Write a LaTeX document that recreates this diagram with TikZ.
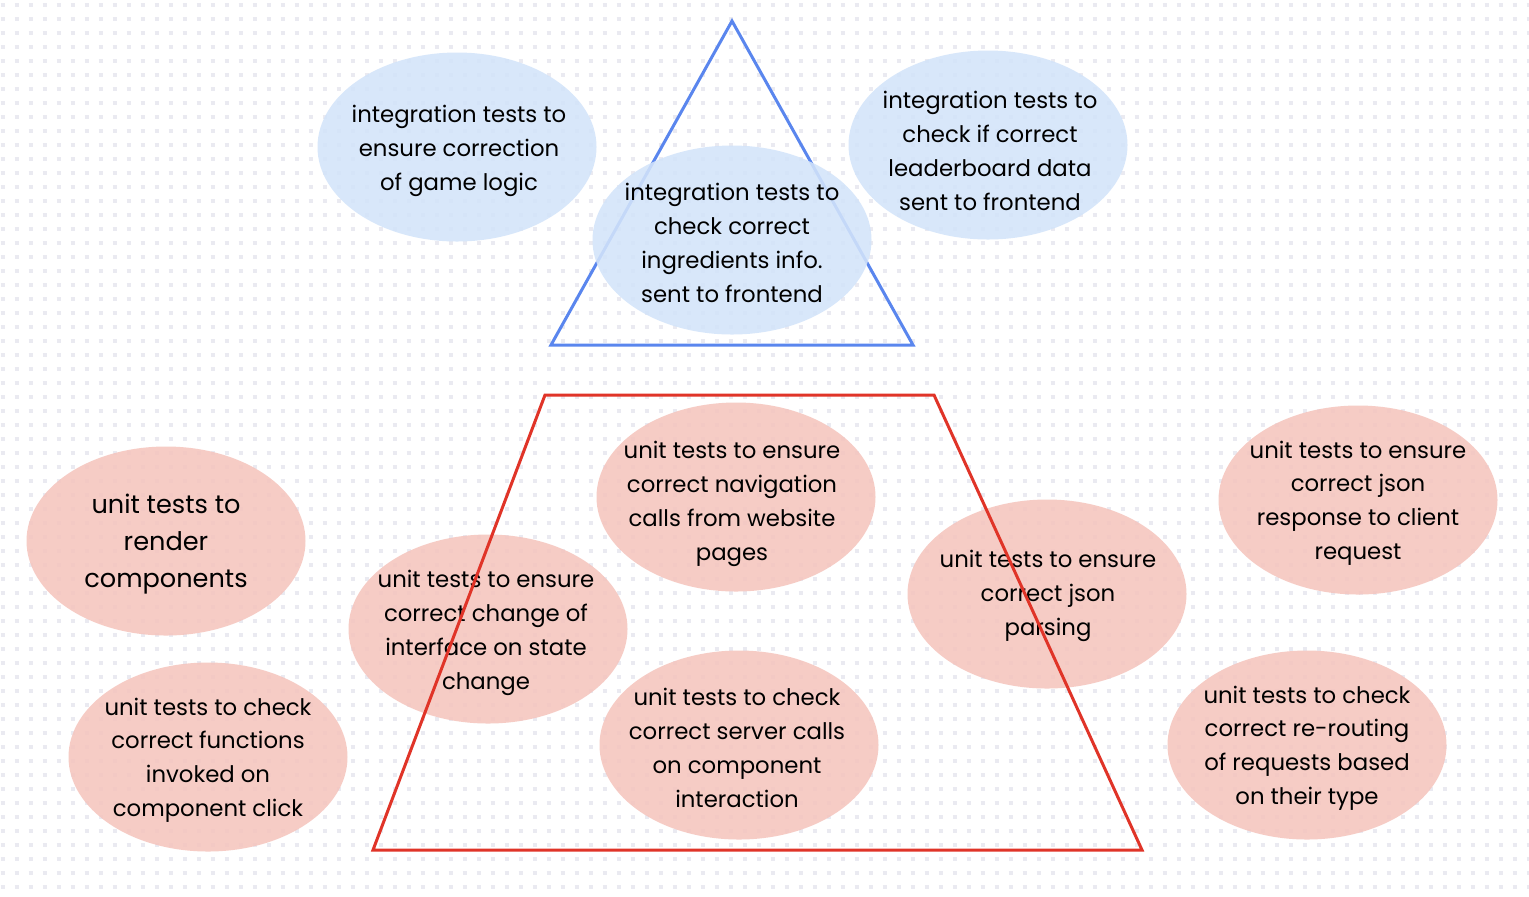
\documentclass[tikz,border=0pt]{standalone}
\usepackage{fontspec}
\setmainfont{Poppins}
\usetikzlibrary{shapes.geometric}
\definecolor{dotcol}{HTML}{EAEAF1}
\definecolor{bluefill}{HTML}{D3E4FA}
\definecolor{redfill}{HTML}{F5C5BE}
\definecolor{blueline}{HTML}{5A86EE}
\definecolor{redline}{HTML}{E03428}
\tikzset{
  bubble/.style={ellipse, minimum width=139.5pt, minimum height=94.5pt, inner sep=0pt, fill opacity=0.88, draw=none},
  bluebubble/.style={bubble, fill=bluefill},
  redbubble/.style={bubble, fill=redfill},
  label text/.style={align=center, inner sep=0pt, font=\fontsize{11.4}{16.9}\selectfont},
  big text/.style={align=center, inner sep=0pt, font=\fontsize{12.8}{18.5}\selectfont},
  pyramid/.style={line width=1.5pt, line join=miter}
}
\begin{document}
\begin{tikzpicture}[x=0.5pt, y=-0.5pt]
\useasboundingbox (0,0) rectangle (1529,896);
\fill[white] (0,0) rectangle (1529,896);
% dotted background
\foreach \r in {0,...,63} {
  \draw[dotcol, line width=2pt, dash pattern=on 2pt off 5pt] (0.5,5.3+14*\r) -- (1529,5.3+14*\r);
}
% blue triangle (under the bubbles)
\coordinate (tA) at (732,21);
\coordinate (tB) at (913,345);
\coordinate (tC) at (551,345);
\draw[pyramid, blueline] (tA) -- (tB) -- (tC) -- cycle;
% bubbles
\node[bluebubble] (e1) at (457,147) {};
\node[bluebubble] (e2) at (988,145) {};
\node[bluebubble] (e3) at (732,240) {};
\node[redbubble] (e4) at (166,541) {};
\node[redbubble] (e5) at (736,497) {};
\node[redbubble] (e6) at (488,629) {};
\node[redbubble] (e7) at (1047,594) {};
\node[redbubble] (e8) at (1358,500) {};
\node[redbubble] (e9) at (208,757) {};
\node[redbubble] (e10) at (739,745) {};
\node[redbubble] (e11) at (1307,745) {};
% texts
\node[label text] (t1) at (459,151) {integration tests to\\ensure correction\\of game logic};
\node[label text] (t2) at (990,151) {integration tests to\\check if correct\\leaderboard data\\sent to frontend};
\node[label text] (t3) at (732,243) {integration tests to\\check correct\\ingredients info.\\sent to frontend};
\node[big text] (t4) at (166,544) {unit tests to\\render\\components};
\node[label text] (t5) at (732,504) {unit tests to ensure\\correct navigation\\calls from website\\pages};
\node[label text] (t6) at (486,633) {unit tests to ensure\\correct change of\\interface on state\\change};
\node[label text] (t7) at (1048,596) {unit tests to ensure\\correct json\\parsing};
\node[label text] (t8) at (1358,503) {unit tests to ensure\\correct json\\response to client\\request};
\node[label text] (t9) at (208,760) {unit tests to check\\correct functions\\invoked on\\component click};
\node[label text] (t10) at (737,748) {unit tests to check\\correct server calls\\on component\\interaction};
\node[label text] (t11) at (1307,748) {unit tests to check\\correct re-routing\\of requests based\\on their type};
% red trapezoid (over the bubbles)
\coordinate (pA) at (545,395);
\coordinate (pB) at (934,395);
\coordinate (pC) at (1142,850);
\coordinate (pD) at (373,850);
\draw[pyramid, redline] (pA) -- (pB) -- (pC) -- (pD) -- cycle;
\end{tikzpicture}
\end{document}
